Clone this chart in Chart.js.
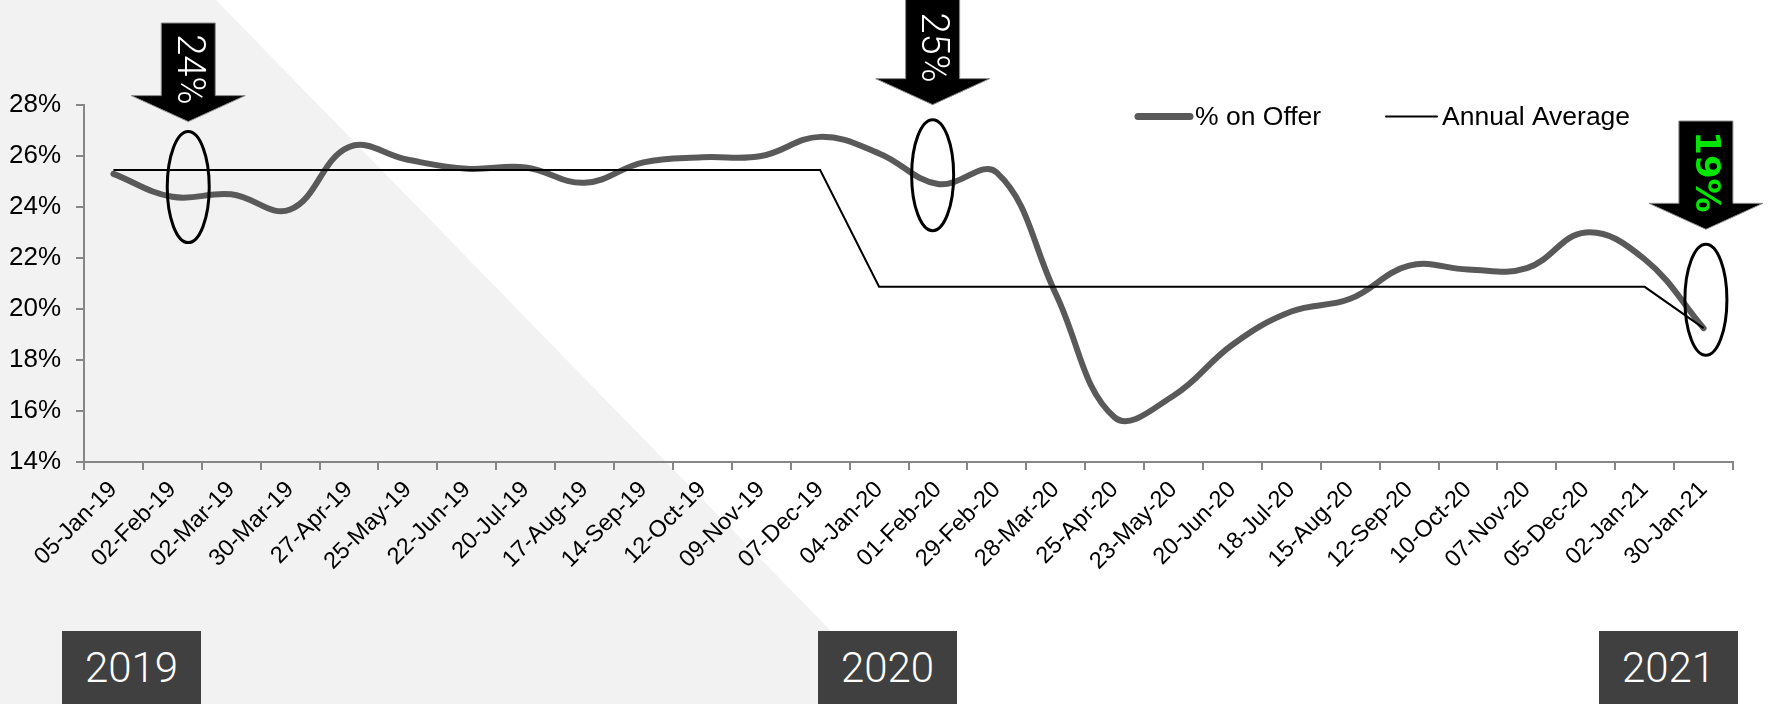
<!DOCTYPE html>
<html>
<head>
<meta charset="utf-8">
<script src="https://cdn.jsdelivr.net/npm/chart.js@4.4.1/dist/chart.umd.min.js"></script>
<style>
  html, body { margin: 0; padding: 0; background: #fff; }
  #wrap { position: relative; width: 1768px; height: 704px; overflow: hidden; }
  #shade { position: absolute; left: 0; top: 0; width: 1768px; height: 704px; background: #f2f2f2;
           clip-path: polygon(0 0, 216px 0, 902px 704px, 0 704px); }
  #chart { position: absolute; left: 0; top: 0; }
  .year { position: absolute; top: 631px; width: 139px; height: 73px; background: #404040; color: #fff;
          font: 300 42px Roboto, "Liberation Sans", sans-serif; display: flex; align-items: center; justify-content: center; }
</style>
</head>
<body>
<div id="wrap">
  <div id="shade"></div>
  <canvas id="chart" width="1768" height="704"></canvas>
  <div class="year" style="left:62px">2019</div>
  <div class="year" style="left:818px">2020</div>
  <div class="year" style="left:1599px">2021</div>
</div>
<script>
// Category labels (every 4 weeks)
const periodLabels = [
  '05-Jan-19', '02-Feb-19', '02-Mar-19', '30-Mar-19', '27-Apr-19', '25-May-19', '22-Jun-19',
  '20-Jul-19', '17-Aug-19', '14-Sep-19', '12-Oct-19', '09-Nov-19', '07-Dec-19', '04-Jan-20',
  '01-Feb-20', '29-Feb-20', '28-Mar-20', '25-Apr-20', '23-May-20', '20-Jun-20', '18-Jul-20',
  '15-Aug-20', '12-Sep-20', '10-Oct-20', '07-Nov-20', '05-Dec-20', '02-Jan-21', '30-Jan-21'
];

// % of products on offer
const onOffer = [
  25.3, 24.4, 24.5, 23.9, 26.35, 25.85, 25.5, 25.55, 24.95, 25.75, 25.95, 26.0, 26.75, 26.1,
  24.9, 25.35, 20.6, 15.75, 16.6, 18.6, 19.9, 20.4, 21.7, 21.55, 21.6, 23.0, 21.95, 19.25
];

// annual average, per category
const annualAverage = [
  25.45, 25.45, 25.45, 25.45, 25.45, 25.45, 25.45, 25.45, 25.45, 25.45, 25.45, 25.45, 25.45,
  20.87, 20.87, 20.87, 20.87, 20.87, 20.87, 20.87, 20.87, 20.87, 20.87, 20.87, 20.87, 20.87, 20.87,
  19.25
];

// y axis range
const yMin = 14;
const yMax = 28;
const yStep = 2;

// callouts: category position, value at ellipse centre, label
const calloutAt = [1.27, 13.91, 27.04];
const calloutValue = [24.78, 25.25, 20.36];
const calloutText = ['24%', '25%', '19%'];

const axisGrey = '#868686';
const lineGrey = '#595959';
const tickFont = { family: '"Liberation Sans", Arial, sans-serif', size: 26 };

// arrows + ellipses, placed through the chart scales
const calloutPlugin = {
  id: 'callouts',
  afterDatasetsDraw(chart) {
    const ctx = chart.ctx;
    const xs = chart.scales.x, ys = chart.scales.y;
    const arrowTops = [23, -3, 121];
    const gaps = [10, 15, 15];
    calloutAt.forEach((pos, i) => {
      const cx = xs.getPixelForValue(pos);
      const cy = ys.getPixelForValue(calloutValue[i]);
      const rx = 21, ry = 55.5;

      // ellipse
      ctx.save();
      ctx.beginPath();
      ctx.ellipse(cx, cy, rx, ry, 0, 0, Math.PI * 2);
      ctx.lineWidth = 3;
      ctx.strokeStyle = '#000';
      ctx.stroke();
      ctx.restore();

      // down arrow
      const top = arrowTops[i];
      const tip = cy - ry - gaps[i];
      const headH = 26;
      const base = tip - headH;
      ctx.save();
      ctx.beginPath();
      ctx.moveTo(cx - 27, top);
      ctx.lineTo(cx + 27, top);
      ctx.lineTo(cx + 27, base);
      ctx.lineTo(cx + 57, base);
      ctx.lineTo(cx, tip);
      ctx.lineTo(cx - 57, base);
      ctx.lineTo(cx - 27, base);
      ctx.closePath();
      ctx.fillStyle = '#000';
      ctx.fill();
      ctx.lineWidth = 1;
      ctx.strokeStyle = '#8c8c8c';
      ctx.stroke();

      // rotated label
      const isLast = i === calloutText.length - 1;
      ctx.translate(cx, top + (tip - top) * 0.47);
      ctx.rotate(Math.PI / 2);
      ctx.textAlign = 'center';
      ctx.textBaseline = 'middle';
      ctx.fillStyle = isLast ? '#00e600' : '#ffffff';
      ctx.font = isLast ? 'bold 34px "DejaVu Sans", sans-serif' : '300 38px Roboto, sans-serif';
      ctx.fillText(calloutText[i], 0, 1);
      ctx.restore();
    });
  },
  afterDraw(chart) {
    // legend
    const ctx = chart.ctx;
    const y = chart.chartArea.top + 11.5;
    const items = [
      { x: 1138, len: 52, width: 7, color: lineGrey, text: chart.data.datasets[0].label },
      { x: 1386, len: 51, width: 2, color: '#000', text: chart.data.datasets[1].label }
    ];
    ctx.save();
    ctx.font = '26.5px "Liberation Sans", Arial, sans-serif';
    ctx.textBaseline = 'middle';
    ctx.fillStyle = '#000';
    items.forEach(it => {
      ctx.beginPath();
      ctx.lineCap = 'round';
      ctx.moveTo(it.x, y);
      ctx.lineTo(it.x + it.len, y);
      ctx.lineWidth = it.width;
      ctx.strokeStyle = it.color;
      ctx.stroke();
      ctx.fillText(it.text, it.x + it.len + 5, y + 1);
    });
    ctx.restore();
  }
};

const ctx = document.getElementById('chart').getContext('2d');
new Chart(ctx, {
  type: 'line',
  data: {
    labels: periodLabels,
    datasets: [{
      label: '% on Offer',
      data: onOffer,
      borderColor: lineGrey,
      borderWidth: 6,
      borderCapStyle: 'round',
      borderJoinStyle: 'round',
      tension: 0.4,
      pointRadius: 0,
      fill: false,
      order: 2
    }, {
      label: 'Annual Average',
      data: annualAverage,
      borderColor: '#000',
      borderWidth: 2,
      tension: 0,
      pointRadius: 0,
      fill: false,
      order: 1
    }]
  },
  options: {
    responsive: false,
    animation: false,
    devicePixelRatio: 1,
    layout: { padding: { top: 105, right: 35, left: 0, bottom: 0 } },
    plugins: {
      legend: { display: false },
      tooltip: { enabled: false }
    },
    scales: {
      x: {
        offset: true,
        grid: { display: true, offset: true, drawOnChartArea: false, drawTicks: true, tickLength: 8, color: axisGrey, lineWidth: 2 },
        border: { display: true, color: axisGrey, width: 2 },
        ticks: { autoSkip: false, maxRotation: 45, minRotation: 45, color: '#000', padding: 6,
                 font: { family: tickFont.family, size: 23.5 } },
        afterFit: (scale) => { scale.height = 242; }
      },
      y: {
        min: yMin,
        max: yMax,
        grid: { display: true, drawOnChartArea: false, drawTicks: true, tickLength: 8, color: axisGrey, lineWidth: 2 },
        border: { display: true, color: axisGrey, width: 2 },
        ticks: { stepSize: yStep, color: '#000', padding: 15, font: tickFont,
                 callback: (v) => v + '%' },
        afterFit: (scale) => { scale.width = 84; }
      }
    }
  },
  plugins: [calloutPlugin]
});
</script>
</body>
</html>
